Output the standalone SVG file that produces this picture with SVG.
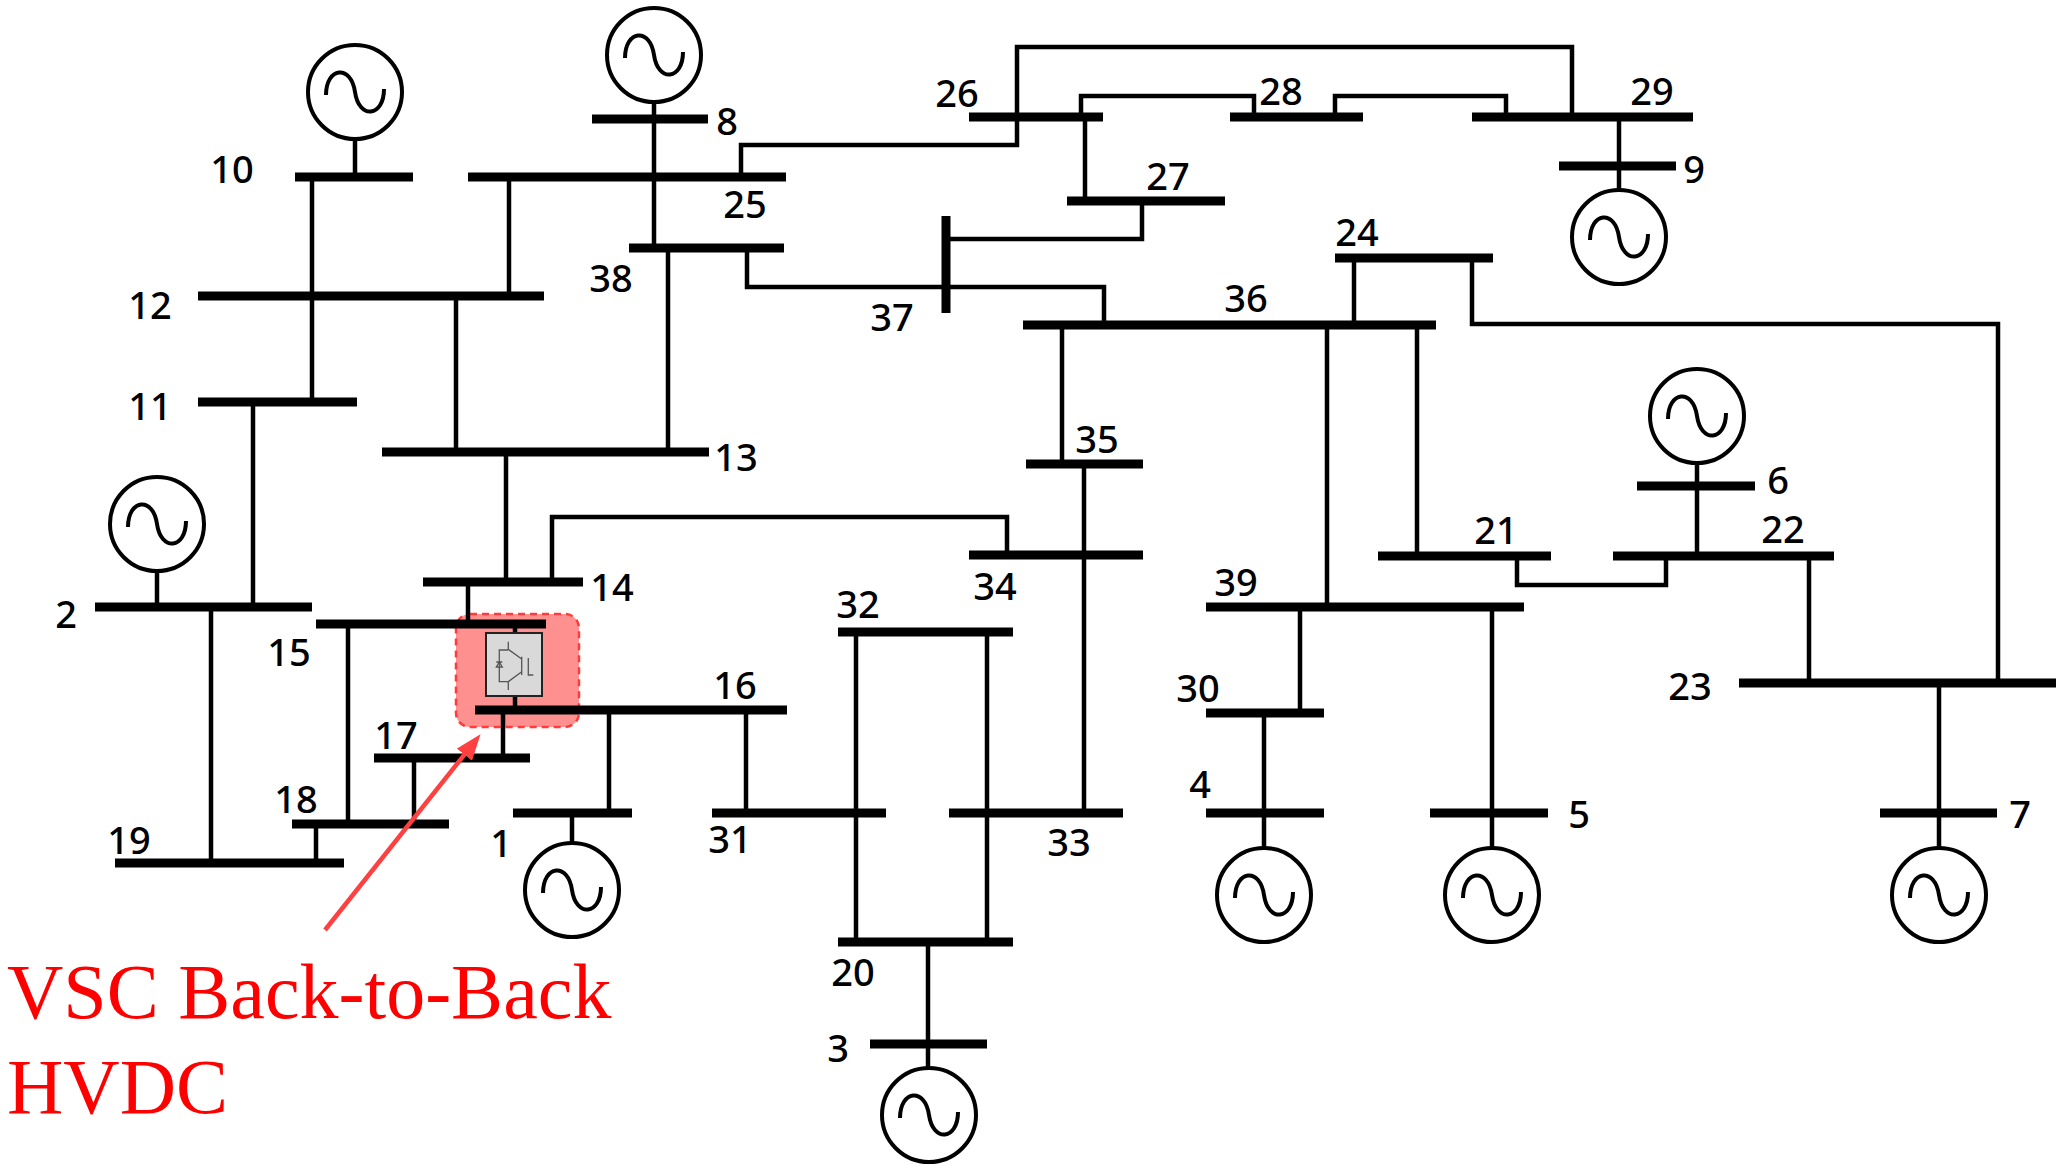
<svg xmlns="http://www.w3.org/2000/svg" width="2068" height="1176" viewBox="0 0 2068 1176">
<style>
.bus{stroke:#000;stroke-width:9;fill:none}
.ln{stroke:#000;stroke-width:4.5;fill:none;stroke-linejoin:miter;stroke-linecap:butt}
.lbl{font-family:"Noto Sans","Liberation Sans",sans-serif;font-size:38px;font-weight:500;fill:#000;text-anchor:middle}
.red{font-family:"Liberation Serif","Times New Roman",serif;font-size:78px;fill:#ff0000}
.ig{stroke:#555;stroke-width:1.3;fill:none}
</style>
<defs>
<g id="gen">
<circle r="47" fill="#fff" stroke="#000" stroke-width="4"/>
<path d="M-29,3 C-29,-25 -4,-28 0,0 C4,28 29,25 29,-3" fill="none" stroke="#000" stroke-width="4"/>
</g>
<marker id="arr" markerUnits="userSpaceOnUse" markerWidth="26" markerHeight="20" refX="14" refY="9" orient="auto" viewBox="0 0 24 18">
<path d="M0,0 L24,9 L0,18 Z" fill="#ff4040"/>
</marker>
</defs>
<rect width="2068" height="1176" fill="#fff"/>

<g id="hvdc-highlight">
<rect x="456" y="614" width="123" height="113" rx="14" fill="#ff9090" stroke="#ff3b3b" stroke-width="2.5" stroke-dasharray="7 5"/>
</g>

<g id="connectors">
<line class="ln" x1="312" y1="177" x2="312" y2="402"/>
<line class="ln" x1="509" y1="177" x2="509" y2="296"/>
<line class="ln" x1="654" y1="102" x2="654" y2="248"/>
<line class="ln" x1="456" y1="296" x2="456" y2="452"/>
<line class="ln" x1="668" y1="248" x2="668" y2="452"/>
<line class="ln" x1="253" y1="402" x2="253" y2="607"/>
<line class="ln" x1="211" y1="607" x2="211" y2="863"/>
<line class="ln" x1="506" y1="452" x2="506" y2="582"/>
<line class="ln" x1="468" y1="582" x2="468" y2="624"/>
<polyline class="ln" points="552,582 552,517 1007,517 1007,555"/>
<line class="ln" x1="348" y1="624" x2="348" y2="824"/>
<line class="ln" x1="515" y1="624" x2="515" y2="633"/>
<line class="ln" x1="515" y1="696" x2="515" y2="710"/>
<line class="ln" x1="503" y1="710" x2="503" y2="758"/>
<line class="ln" x1="609" y1="710" x2="609" y2="813"/>
<line class="ln" x1="746" y1="710" x2="746" y2="813"/>
<line class="ln" x1="414" y1="758" x2="414" y2="824"/>
<line class="ln" x1="316" y1="824" x2="316" y2="863"/>
<polyline class="ln" points="1017,117 1017,47 1572,47 1572,117"/>
<polyline class="ln" points="1017,117 1017,145 741,145 741,177"/>
<polyline class="ln" points="1081,117 1081,96 1254,96 1254,117"/>
<polyline class="ln" points="1335,117 1335,96 1506,96 1506,117"/>
<line class="ln" x1="1085" y1="117" x2="1085" y2="201"/>
<line class="ln" x1="1619" y1="117" x2="1619" y2="190"/>
<polyline class="ln" points="1142,201 1142,239 946,239"/>
<polyline class="ln" points="747,248 747,287 946,287"/>
<polyline class="ln" points="946,287 1104,287 1104,325"/>
<line class="ln" x1="1354" y1="258" x2="1354" y2="325"/>
<polyline class="ln" points="1472,258 1472,324 1998,324 1998,683"/>
<line class="ln" x1="1062" y1="325" x2="1062" y2="464"/>
<line class="ln" x1="1327" y1="325" x2="1327" y2="607"/>
<line class="ln" x1="1417" y1="325" x2="1417" y2="556"/>
<line class="ln" x1="1084" y1="464" x2="1084" y2="813"/>
<line class="ln" x1="856" y1="632" x2="856" y2="942"/>
<line class="ln" x1="987" y1="632" x2="987" y2="942"/>
<line class="ln" x1="928" y1="942" x2="928" y2="1068"/>
<line class="ln" x1="1300" y1="607" x2="1300" y2="713"/>
<line class="ln" x1="1264" y1="713" x2="1264" y2="848"/>
<line class="ln" x1="1492" y1="607" x2="1492" y2="848"/>
<polyline class="ln" points="1517,556 1517,585 1666,585 1666,556"/>
<line class="ln" x1="1697" y1="462" x2="1697" y2="556"/>
<line class="ln" x1="1809" y1="556" x2="1809" y2="683"/>
<line class="ln" x1="1939" y1="683" x2="1939" y2="848"/>
<line class="ln" x1="355" y1="139" x2="355" y2="177"/>
<line class="ln" x1="157" y1="571" x2="157" y2="607"/>
<line class="ln" x1="572" y1="813" x2="572" y2="843"/>
</g>

<g id="bus-1"><line class="bus" x1="513" y1="813" x2="632" y2="813"/><text class="lbl" x="501" y="857">1</text></g>
<g id="bus-2"><line class="bus" x1="95" y1="607" x2="312" y2="607"/><text class="lbl" x="66" y="628">2</text></g>
<g id="bus-3"><line class="bus" x1="870" y1="1044" x2="987" y2="1044"/><text class="lbl" x="838" y="1062">3</text></g>
<g id="bus-4"><line class="bus" x1="1206" y1="813" x2="1324" y2="813"/><text class="lbl" x="1200" y="798">4</text></g>
<g id="bus-5"><line class="bus" x1="1430" y1="813" x2="1548" y2="813"/><text class="lbl" x="1579" y="828">5</text></g>
<g id="bus-6"><line class="bus" x1="1637" y1="486" x2="1755" y2="486"/><text class="lbl" x="1778" y="494">6</text></g>
<g id="bus-7"><line class="bus" x1="1880" y1="813" x2="1997" y2="813"/><text class="lbl" x="2020" y="828">7</text></g>
<g id="bus-8"><line class="bus" x1="592" y1="119" x2="708" y2="119"/><text class="lbl" x="727" y="135">8</text></g>
<g id="bus-9"><line class="bus" x1="1559" y1="166" x2="1676" y2="166"/><text class="lbl" x="1694" y="183">9</text></g>
<g id="bus-10"><line class="bus" x1="295" y1="177" x2="413" y2="177"/><text class="lbl" x="232" y="183">10</text></g>
<g id="bus-11"><line class="bus" x1="198" y1="402" x2="357" y2="402"/><text class="lbl" x="150" y="420">11</text></g>
<g id="bus-12"><line class="bus" x1="198" y1="296" x2="544" y2="296"/><text class="lbl" x="150" y="319">12</text></g>
<g id="bus-13"><line class="bus" x1="382" y1="452" x2="709" y2="452"/><text class="lbl" x="736" y="471">13</text></g>
<g id="bus-14"><line class="bus" x1="423" y1="582" x2="583" y2="582"/><text class="lbl" x="612" y="601">14</text></g>
<g id="bus-15"><line class="bus" x1="316" y1="624" x2="546" y2="624"/><text class="lbl" x="289" y="666">15</text></g>
<g id="bus-16"><line class="bus" x1="475" y1="710" x2="787" y2="710"/><text class="lbl" x="735" y="699">16</text></g>
<g id="bus-17"><line class="bus" x1="374" y1="758" x2="530" y2="758"/><text class="lbl" x="396" y="749">17</text></g>
<g id="bus-18"><line class="bus" x1="292" y1="824" x2="449" y2="824"/><text class="lbl" x="296" y="813">18</text></g>
<g id="bus-19"><line class="bus" x1="115" y1="863" x2="344" y2="863"/><text class="lbl" x="129" y="854">19</text></g>
<g id="bus-20"><line class="bus" x1="838" y1="942" x2="1013" y2="942"/><text class="lbl" x="853" y="986">20</text></g>
<g id="bus-21"><line class="bus" x1="1378" y1="556" x2="1551" y2="556"/><text class="lbl" x="1496" y="544">21</text></g>
<g id="bus-22"><line class="bus" x1="1613" y1="556" x2="1834" y2="556"/><text class="lbl" x="1783" y="543">22</text></g>
<g id="bus-23"><line class="bus" x1="1739" y1="683" x2="2056" y2="683"/><text class="lbl" x="1690" y="700">23</text></g>
<g id="bus-24"><line class="bus" x1="1335" y1="258" x2="1493" y2="258"/><text class="lbl" x="1357" y="246">24</text></g>
<g id="bus-25"><line class="bus" x1="468" y1="177" x2="786" y2="177"/><text class="lbl" x="745" y="218">25</text></g>
<g id="bus-26"><line class="bus" x1="969" y1="117" x2="1103" y2="117"/><text class="lbl" x="957" y="107">26</text></g>
<g id="bus-27"><line class="bus" x1="1067" y1="201" x2="1225" y2="201"/><text class="lbl" x="1168" y="190">27</text></g>
<g id="bus-28"><line class="bus" x1="1230" y1="117" x2="1363" y2="117"/><text class="lbl" x="1281" y="105">28</text></g>
<g id="bus-29"><line class="bus" x1="1472" y1="117" x2="1693" y2="117"/><text class="lbl" x="1652" y="105">29</text></g>
<g id="bus-30"><line class="bus" x1="1206" y1="713" x2="1324" y2="713"/><text class="lbl" x="1198" y="702">30</text></g>
<g id="bus-31"><line class="bus" x1="712" y1="813" x2="886" y2="813"/><text class="lbl" x="730" y="853">31</text></g>
<g id="bus-32"><line class="bus" x1="838" y1="632" x2="1013" y2="632"/><text class="lbl" x="858" y="618">32</text></g>
<g id="bus-33"><line class="bus" x1="949" y1="813" x2="1123" y2="813"/><text class="lbl" x="1069" y="856">33</text></g>
<g id="bus-34"><line class="bus" x1="969" y1="555" x2="1143" y2="555"/><text class="lbl" x="995" y="600">34</text></g>
<g id="bus-35"><line class="bus" x1="1026" y1="464" x2="1143" y2="464"/><text class="lbl" x="1097" y="453">35</text></g>
<g id="bus-36"><line class="bus" x1="1023" y1="325" x2="1436" y2="325"/><text class="lbl" x="1246" y="312">36</text></g>
<g id="bus-37"><line class="bus" x1="946" y1="216" x2="946" y2="313"/><text class="lbl" x="892" y="331">37</text></g>
<g id="bus-38"><line class="bus" x1="629" y1="248" x2="784" y2="248"/><text class="lbl" x="611" y="292">38</text></g>
<g id="bus-39"><line class="bus" x1="1206" y1="607" x2="1524" y2="607"/><text class="lbl" x="1236" y="596">39</text></g>

<g id="gen-1"><use href="#gen" x="572" y="890"/></g>
<g id="gen-2"><use href="#gen" x="157" y="524"/></g>
<g id="gen-3"><use href="#gen" x="929" y="1115"/></g>
<g id="gen-4"><use href="#gen" x="1264" y="895"/></g>
<g id="gen-5"><use href="#gen" x="1492" y="895"/></g>
<g id="gen-6"><use href="#gen" x="1697" y="416"/></g>
<g id="gen-7"><use href="#gen" x="1939" y="895"/></g>
<g id="gen-8"><use href="#gen" x="654" y="55"/></g>
<g id="gen-9"><use href="#gen" x="1619" y="237"/></g>
<g id="gen-10"><use href="#gen" x="355" y="92"/></g>

<g id="converter">
<rect x="486" y="633" width="56" height="63" fill="#d9d9d9" stroke="#222" stroke-width="2"/>
<polyline class="ig" points="508.3,641.7 508.3,649.3 521.7,659"/>
<line class="ig" x1="521.7" y1="656.7" x2="521.7" y2="675"/>
<polyline class="ig" points="521.7,671.7 508.3,681.7 508.3,690"/>
<polyline class="ig" points="528.3,658 528.3,675 533.3,675"/>
<polyline class="ig" points="508.3,650 499.3,650 499.3,681.7 508.3,681.7"/>
<path class="ig" d="M496.3,667 L502.3,667 L499.3,662 Z M496.3,662 L502.3,662"/>
</g>

<g id="annotation">
<line x1="325" y1="930" x2="473.8" y2="742.8" stroke="#ff4040" stroke-width="4.5" marker-end="url(#arr)"/>
<text class="red" x="7" y="1018">VSC Back-to-Back</text>
<text class="red" x="7" y="1113">HVDC</text>
</g>
</svg>
